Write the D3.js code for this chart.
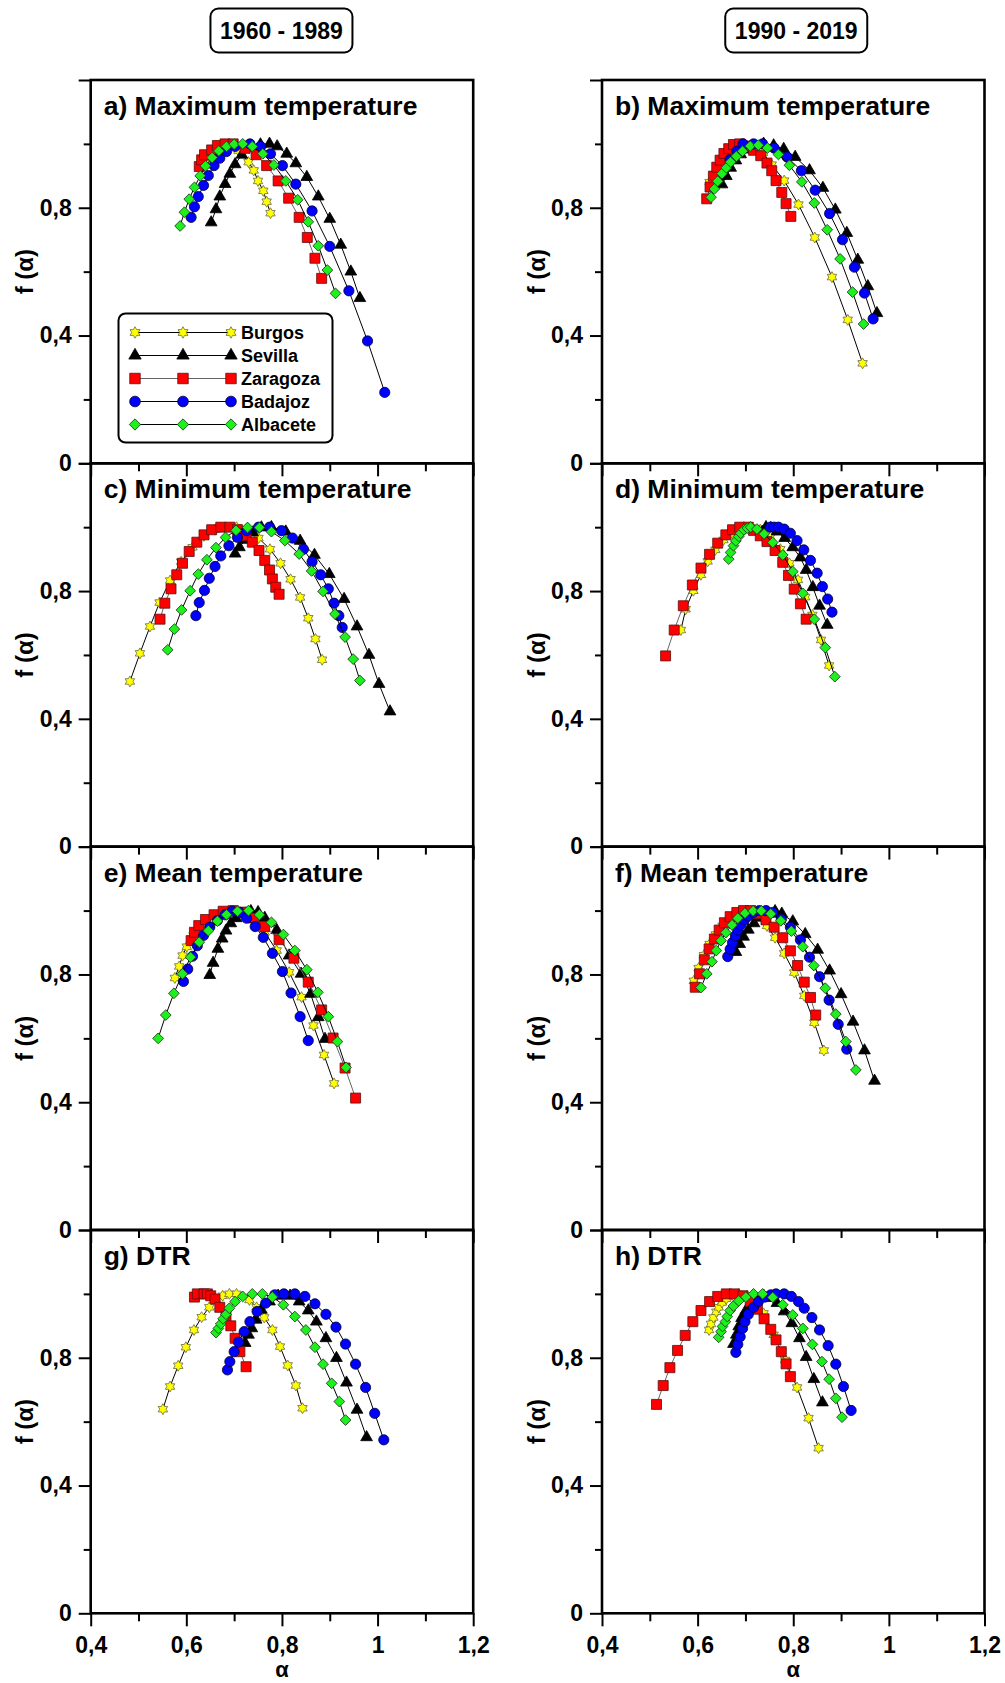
<!DOCTYPE html>
<html>
<head>
<meta charset="utf-8">
<script src="https://cdn.jsdelivr.net/npm/d3@7"></script>
<style>
  html, body { margin: 0; padding: 0; background: #fff; }
  svg text { font-family: "Liberation Sans", Arial, sans-serif; font-weight: bold; fill: #000; }
</style>
</head>
<body>
<script>
// ---- Labels and ticks ----
const cities = ["Burgos", "Sevilla", "Zaragoza", "Badajoz", "Albacete"];
const periods = ["1960 - 1989", "1990 - 2019"];
const panelTitles = [
  "a) Maximum temperature", "b) Maximum temperature",
  "c) Minimum temperature", "d) Minimum temperature",
  "e) Mean temperature", "f) Mean temperature",
  "g) DTR", "h) DTR"
];
const yTicksMajor = [0, 0.4, 0.8, 1.2];
const yTickLabels = ["0", "0,4", "0,8", ""];
const yTicksMinor = [0.2, 0.6, 1.0];
const xTicksMajor = [0.4, 0.6, 0.8, 1.0, 1.2];
const xTickLabels = ["0,4", "0,6", "0,8", "1", "1,2"];
const xTicksMinor = [0.5, 0.7, 0.9, 1.1];

// ---- Singularity spectra [alpha, f(alpha)] ----
// a) Maximum temperature, 1960-1989
const burgosA = [[0.64,0.94],[0.655,0.962],[0.67,0.98],[0.685,0.993],[0.698,0.998],[0.709,0.979],[0.730,0.943],[0.741,0.917],[0.750,0.884],[0.761,0.853],[0.768,0.819],[0.776,0.783]];
const sevillaA = [[0.652,0.754],[0.662,0.795],[0.670,0.835],[0.681,0.874],[0.691,0.906],[0.702,0.936],[0.716,0.966],[0.735,0.987],[0.755,0.998],[0.774,1.0],[0.790,0.992],[0.810,0.969],[0.829,0.939],[0.852,0.896],[0.876,0.835],[0.900,0.765],[0.923,0.684],[0.944,0.600],[0.963,0.517]];
const zaragozaA = [[0.627,0.929],[0.632,0.950],[0.638,0.966],[0.653,0.981],[0.665,0.995],[0.681,1.0],[0.698,1.0],[0.723,0.986],[0.746,0.966],[0.768,0.932],[0.792,0.884],[0.814,0.830],[0.836,0.770],[0.853,0.707],[0.869,0.642],[0.883,0.579]];
const badajozA = [[0.610,0.770],[0.617,0.803],[0.625,0.835],[0.636,0.870],[0.646,0.901],[0.658,0.932],[0.670,0.955],[0.684,0.976],[0.702,0.992],[0.733,1.0],[0.755,0.992],[0.776,0.969],[0.801,0.932],[0.829,0.874],[0.863,0.790],[0.900,0.679],[0.940,0.540],[0.979,0.383],[1.015,0.222]];
const albaceteA = [[0.587,0.743],[0.596,0.786],[0.606,0.827],[0.617,0.864],[0.629,0.900],[0.640,0.931],[0.654,0.957],[0.668,0.978],[0.684,0.992],[0.700,0.999],[0.718,1.0],[0.738,0.992],[0.760,0.969],[0.783,0.934],[0.808,0.884],[0.833,0.825],[0.855,0.756],[0.876,0.681],[0.895,0.605],[0.912,0.532]];

// b) Maximum temperature, 1990-2019
const burgosB = [[0.625,0.88],[0.635,0.905],[0.645,0.928],[0.657,0.95],[0.67,0.968],[0.685,0.983],[0.70,0.994],[0.718,0.998],[0.737,0.972],[0.755,0.935],[0.781,0.885],[0.811,0.810],[0.845,0.707],[0.881,0.583],[0.914,0.449],[0.945,0.313]];
const sevillaB = [[0.651,0.873],[0.660,0.899],[0.669,0.925],[0.680,0.948],[0.690,0.967],[0.703,0.982],[0.717,0.993],[0.738,1.0],[0.759,0.995],[0.780,0.984],[0.804,0.959],[0.834,0.917],[0.862,0.862],[0.888,0.794],[0.912,0.721],[0.935,0.637],[0.956,0.554],[0.975,0.470]];
const zaragozaB = [[0.619,0.828],[0.626,0.865],[0.633,0.899],[0.640,0.927],[0.647,0.949],[0.655,0.970],[0.665,0.985],[0.675,0.998],[0.688,1.0],[0.704,0.993],[0.717,0.980],[0.732,0.963],[0.745,0.940],[0.755,0.916],[0.764,0.885],[0.776,0.848],[0.785,0.813],[0.795,0.773]];
const badajozB = [[0.668,0.951],[0.682,0.977],[0.695,1.0],[0.717,1.0],[0.736,1.0],[0.760,0.987],[0.787,0.959],[0.817,0.916],[0.846,0.855],[0.876,0.782],[0.903,0.700],[0.928,0.614],[0.949,0.533],[0.967,0.452]];
const albaceteB = [[0.628,0.833],[0.635,0.859],[0.642,0.883],[0.651,0.907],[0.660,0.925],[0.669,0.943],[0.681,0.961],[0.694,0.977],[0.710,0.993],[0.727,0.996],[0.746,0.987],[0.769,0.967],[0.792,0.933],[0.818,0.881],[0.844,0.815],[0.871,0.731],[0.898,0.640],[0.924,0.536],[0.947,0.436]];

// c) Minimum temperature, 1960-1989
const burgosC = [[0.482,0.517],[0.503,0.605],[0.524,0.689],[0.544,0.764],[0.566,0.833],[0.589,0.892],[0.613,0.937],[0.637,0.973],[0.660,0.992],[0.681,0.999],[0.705,1.0],[0.728,0.986],[0.751,0.966],[0.775,0.931],[0.797,0.887],[0.818,0.837],[0.838,0.780],[0.855,0.715],[0.870,0.650],[0.884,0.585]];
const sevillaC = [[0.702,0.917],[0.711,0.937],[0.723,0.960],[0.739,0.983],[0.757,0.999],[0.778,1.0],[0.808,0.986],[0.838,0.957],[0.868,0.913],[0.899,0.853],[0.930,0.775],[0.957,0.689],[0.982,0.600],[1.003,0.509],[1.026,0.423]];
const zaragozaC = [[0.545,0.712],[0.555,0.762],[0.568,0.807],[0.580,0.851],[0.592,0.887],[0.606,0.924],[0.622,0.953],[0.637,0.976],[0.653,0.992],[0.672,1.0],[0.691,1.0],[0.707,0.992],[0.725,0.973],[0.738,0.953],[0.752,0.927],[0.764,0.896],[0.774,0.866],[0.780,0.838],[0.787,0.812],[0.794,0.790]];
const badajozC = [[0.620,0.723],[0.627,0.764],[0.638,0.802],[0.648,0.840],[0.660,0.877],[0.672,0.910],[0.689,0.942],[0.707,0.968],[0.726,0.989],[0.751,1.0],[0.774,1.0],[0.799,0.989],[0.822,0.966],[0.845,0.931],[0.863,0.892],[0.881,0.851],[0.897,0.807],[0.909,0.762],[0.919,0.723],[0.926,0.686]];
const albaceteC = [[0.561,0.616],[0.575,0.681],[0.590,0.741],[0.608,0.801],[0.625,0.853],[0.643,0.898],[0.662,0.936],[0.682,0.968],[0.704,0.990],[0.728,0.999],[0.753,0.999],[0.778,0.986],[0.806,0.958],[0.836,0.916],[0.862,0.863],[0.886,0.799],[0.911,0.728],[0.932,0.656],[0.949,0.587],[0.963,0.520]];

// d) Minimum temperature, 1990-2019
const burgosD = [[0.565,0.678],[0.575,0.743],[0.591,0.801],[0.607,0.851],[0.621,0.893],[0.637,0.929],[0.654,0.960],[0.672,0.981],[0.689,0.997],[0.710,1.0],[0.731,0.992],[0.752,0.969],[0.773,0.931],[0.792,0.887],[0.810,0.835],[0.825,0.781],[0.840,0.725],[0.858,0.647],[0.875,0.567]];
const sevillaD = [[0.735,0.985],[0.743,1.0],[0.753,0.997],[0.766,0.986],[0.782,0.966],[0.799,0.937],[0.815,0.905],[0.827,0.866],[0.841,0.812],[0.855,0.754],[0.871,0.694]];
const zaragozaD = [[0.533,0.597],[0.551,0.678],[0.570,0.754],[0.589,0.819],[0.607,0.872],[0.625,0.915],[0.642,0.950],[0.659,0.976],[0.673,0.992],[0.688,1.0],[0.706,1.0],[0.717,0.990],[0.731,0.973],[0.745,0.955],[0.762,0.927],[0.778,0.890],[0.790,0.849],[0.802,0.806],[0.815,0.760],[0.827,0.712]];
const badajozD = [[0.752,1.0],[0.760,1.0],[0.769,1.0],[0.781,0.994],[0.794,0.981],[0.808,0.958],[0.822,0.929],[0.836,0.896],[0.850,0.856],[0.861,0.814],[0.872,0.775],[0.881,0.734]];
const albaceteD = [[0.665,0.900],[0.669,0.921],[0.675,0.942],[0.680,0.957],[0.686,0.971],[0.690,0.981],[0.697,0.992],[0.704,0.997],[0.711,1.0],[0.724,0.994],[0.739,0.979],[0.757,0.952],[0.778,0.913],[0.799,0.861],[0.820,0.793],[0.844,0.712],[0.867,0.623],[0.887,0.532]];

// e) Mean temperature, 1960-1989
const burgosE = [[0.576,0.789],[0.585,0.825],[0.592,0.859],[0.601,0.887],[0.615,0.922],[0.632,0.950],[0.653,0.974],[0.674,0.990],[0.698,0.998],[0.723,0.995],[0.744,0.977],[0.764,0.932],[0.789,0.875],[0.815,0.807],[0.841,0.729],[0.866,0.640],[0.888,0.548],[0.909,0.459]];
const sevillaE = [[0.649,0.798],[0.656,0.836],[0.666,0.880],[0.675,0.912],[0.683,0.937],[0.693,0.960],[0.704,0.976],[0.718,0.990],[0.735,0.998],[0.750,0.995],[0.764,0.977],[0.789,0.939],[0.815,0.859],[0.840,0.802],[0.860,0.739],[0.876,0.666],[0.890,0.598]];
const zaragozaE = [[0.610,0.906],[0.617,0.932],[0.626,0.953],[0.640,0.972],[0.658,0.987],[0.677,0.998],[0.698,1.0],[0.719,0.995],[0.740,0.977],[0.764,0.950],[0.794,0.909],[0.825,0.851],[0.855,0.776],[0.883,0.689],[0.907,0.601],[0.932,0.507],[0.954,0.413]];
const badajozE = [[0.594,0.778],[0.603,0.817],[0.613,0.857],[0.623,0.890],[0.636,0.922],[0.649,0.948],[0.665,0.969],[0.681,0.987],[0.696,0.998],[0.711,0.995],[0.726,0.976],[0.744,0.950],[0.761,0.916],[0.780,0.866],[0.801,0.809],[0.819,0.742],[0.838,0.668],[0.855,0.593]];
const albaceteE = [[0.541,0.600],[0.557,0.673],[0.574,0.741],[0.592,0.802],[0.609,0.854],[0.627,0.901],[0.646,0.937],[0.665,0.967],[0.684,0.987],[0.707,0.998],[0.730,1.0],[0.753,0.987],[0.778,0.963],[0.803,0.925],[0.827,0.875],[0.852,0.815],[0.875,0.744],[0.897,0.668],[0.916,0.590],[0.934,0.509]];

// f) Mean temperature, 1990-2019
const burgosF = [[0.592,0.780],[0.602,0.820],[0.613,0.860],[0.625,0.895],[0.638,0.925],[0.652,0.952],[0.668,0.975],[0.685,0.990],[0.705,1.0],[0.722,0.990],[0.735,0.975],[0.745,0.952],[0.762,0.915],[0.781,0.866],[0.802,0.806],[0.823,0.733],[0.844,0.649],[0.864,0.562]];
const sevillaF = [[0.680,0.870],[0.688,0.895],[0.696,0.918],[0.706,0.940],[0.718,0.960],[0.732,0.978],[0.748,0.992],[0.762,0.998],[0.776,0.990],[0.799,0.966],[0.825,0.926],[0.851,0.877],[0.876,0.812],[0.900,0.738],[0.925,0.652],[0.949,0.562],[0.970,0.467]];
const zaragozaF = [[0.595,0.760],[0.604,0.802],[0.614,0.846],[0.624,0.880],[0.635,0.911],[0.645,0.939],[0.656,0.962],[0.668,0.981],[0.682,0.994],[0.696,1.0],[0.711,1.0],[0.724,0.990],[0.743,0.971],[0.760,0.948],[0.778,0.915],[0.794,0.874],[0.809,0.828],[0.823,0.776],[0.836,0.728],[0.847,0.673]];
const badajozF = [[0.663,0.856],[0.668,0.879],[0.673,0.900],[0.679,0.921],[0.684,0.939],[0.690,0.955],[0.698,0.971],[0.706,0.983],[0.717,0.994],[0.729,1.0],[0.743,1.0],[0.757,0.994],[0.775,0.973],[0.794,0.948],[0.815,0.908],[0.834,0.854],[0.855,0.793],[0.875,0.720],[0.894,0.644],[0.912,0.566]];
const albaceteF = [[0.607,0.759],[0.619,0.802],[0.630,0.840],[0.639,0.875],[0.649,0.906],[0.659,0.931],[0.672,0.955],[0.684,0.976],[0.699,0.992],[0.716,0.999],[0.733,0.999],[0.753,0.990],[0.774,0.968],[0.796,0.936],[0.820,0.887],[0.843,0.828],[0.867,0.757],[0.889,0.676],[0.910,0.590],[0.931,0.501]];

// g) DTR, 1960-1989
const burgosG = [[0.551,0.639],[0.566,0.710],[0.583,0.775],[0.599,0.833],[0.616,0.887],[0.632,0.927],[0.648,0.958],[0.663,0.981],[0.676,0.994],[0.690,1.0],[0.705,1.0],[0.732,0.981],[0.747,0.958],[0.763,0.926],[0.780,0.887],[0.796,0.835],[0.812,0.776],[0.829,0.713],[0.843,0.642]];
const sevillaG = [[0.723,0.846],[0.730,0.872],[0.737,0.892],[0.746,0.919],[0.757,0.950],[0.774,0.976],[0.792,0.994],[0.817,0.994],[0.836,0.976],[0.855,0.948],[0.872,0.913],[0.892,0.861],[0.914,0.799],[0.935,0.722],[0.957,0.637],[0.977,0.551]];
const zaragozaG = [[0.617,0.990],[0.623,1.0],[0.637,1.0],[0.644,1.0],[0.651,0.994],[0.660,0.984],[0.670,0.958],[0.683,0.929],[0.693,0.900],[0.702,0.861],[0.712,0.819],[0.725,0.772]];
const badajozG = [[0.686,0.762],[0.691,0.788],[0.700,0.819],[0.709,0.849],[0.721,0.882],[0.733,0.913],[0.748,0.945],[0.766,0.971],[0.785,0.997],[0.804,1.0],[0.827,1.0],[0.848,0.992],[0.869,0.969],[0.892,0.936],[0.913,0.896],[0.933,0.843],[0.954,0.780],[0.975,0.707],[0.994,0.626],[1.013,0.543]];
const albaceteG = [[0.662,0.879],[0.667,0.892],[0.672,0.906],[0.677,0.922],[0.683,0.936],[0.690,0.955],[0.702,0.976],[0.718,0.992],[0.738,1.0],[0.759,1.0],[0.780,0.990],[0.803,0.966],[0.827,0.929],[0.850,0.887],[0.869,0.833],[0.886,0.780],[0.904,0.720],[0.920,0.663],[0.933,0.605]];

// h) DTR, 1990-2019
const burgosH = [[0.624,0.887],[0.628,0.906],[0.633,0.926],[0.639,0.944],[0.644,0.958],[0.651,0.973],[0.660,0.985],[0.672,0.997],[0.686,1.0],[0.703,0.994],[0.720,0.976],[0.738,0.939],[0.759,0.872],[0.783,0.793],[0.808,0.707],[0.832,0.611],[0.853,0.517]];
const sevillaH = [[0.675,0.843],[0.681,0.872],[0.686,0.898],[0.692,0.924],[0.701,0.948],[0.710,0.968],[0.723,0.983],[0.738,0.994],[0.752,0.987],[0.766,0.971],[0.781,0.945],[0.797,0.908],[0.813,0.861],[0.827,0.802],[0.843,0.733],[0.861,0.660]];
const zaragozaH = [[0.514,0.654],[0.528,0.713],[0.542,0.769],[0.558,0.823],[0.574,0.870],[0.590,0.913],[0.607,0.948],[0.625,0.976],[0.642,0.992],[0.660,1.0],[0.677,1.0],[0.695,0.994],[0.710,0.976],[0.725,0.952],[0.739,0.922],[0.753,0.889],[0.764,0.856],[0.775,0.819],[0.785,0.781],[0.794,0.741]];
const badajozH = [[0.680,0.817],[0.684,0.842],[0.689,0.866],[0.694,0.892],[0.699,0.913],[0.706,0.936],[0.717,0.958],[0.727,0.976],[0.741,0.990],[0.753,0.997],[0.764,1.0],[0.781,1.0],[0.796,0.992],[0.811,0.976],[0.823,0.955],[0.839,0.926],[0.855,0.887],[0.873,0.838],[0.889,0.780],[0.905,0.710],[0.921,0.635]];
const albaceteH = [[0.644,0.864],[0.649,0.882],[0.652,0.898],[0.658,0.913],[0.662,0.929],[0.668,0.948],[0.675,0.962],[0.686,0.978],[0.701,0.990],[0.717,1.0],[0.736,1.0],[0.757,0.989],[0.778,0.966],[0.799,0.934],[0.820,0.892],[0.840,0.842],[0.860,0.788],[0.875,0.733],[0.889,0.673],[0.902,0.614]];

// Series per panel, in city order (Burgos, Sevilla, Zaragoza, Badajoz, Albacete)
const panelSeries = [
  [burgosA, sevillaA, zaragozaA, badajozA, albaceteA],
  [burgosB, sevillaB, zaragozaB, badajozB, albaceteB],
  [burgosC, sevillaC, zaragozaC, badajozC, albaceteC],
  [burgosD, sevillaD, zaragozaD, badajozD, albaceteD],
  [burgosE, sevillaE, zaragozaE, badajozE, albaceteE],
  [burgosF, sevillaF, zaragozaF, badajozF, albaceteF],
  [burgosG, sevillaG, zaragozaG, badajozG, albaceteG],
  [burgosH, sevillaH, zaragozaH, badajozH, albaceteH]
];

// ---- Marker shapes ----
const symbolHexagram = {
  draw(ctx, size) {
    const r = Math.sqrt(size);
    const ri = r * 0.58;
    for (let i = 0; i < 12; i++) {
      const rr = i % 2 ? ri : r;
      const a = -Math.PI / 2 + i * Math.PI / 6;
      const x = rr * Math.cos(a), y = rr * Math.sin(a);
      if (i === 0) ctx.moveTo(x, y); else ctx.lineTo(x, y);
    }
    ctx.closePath();
  }
};

const styles = [
  { type: symbolHexagram,   size: 30,  rot: 0,  fill: "#ffff00", stroke: "#6b6b3a", line: "#000" },
  { type: d3.symbolTriangle, size: 60, rot: 0,  fill: "#000000", stroke: "#000",    line: "#000" },
  { type: d3.symbolSquare,  size: 100, rot: 0,  fill: "#ff0000", stroke: "#5a1010", line: "#666" },
  { type: d3.symbolCircle,  size: 82,  rot: 0,  fill: "#0000ff", stroke: "#000033", line: "#000" },
  { type: d3.symbolSquare,  size: 58,  rot: 45, fill: "#1ef01e", stroke: "#1c3a1c", line: "#000" }
];

// ---- Layout ----
const W = 1005, H = 1683;
const colX = [90.7, 602];
const plotW = 382.5;
const rowY = [80, 463.3, 846.7, 1230];
const plotH = 383.3;

const svg = d3.select("body").append("svg")
  .attr("width", W).attr("height", H)
  .attr("viewBox", `0 0 ${W} ${H}`);

// Period headers
periods.forEach((p, c) => {
  const cx = colX[c] + plotW / 2 + (c === 0 ? -0.5 : 3);
  const g = svg.append("g");
  g.append("rect")
    .attr("x", cx - 71).attr("y", 8.5).attr("width", 142).attr("height", 44)
    .attr("rx", 8).attr("fill", "#fff").attr("stroke", "#000").attr("stroke-width", 2);
  g.append("text")
    .attr("x", cx).attr("y", 38.5)
    .attr("text-anchor", "middle").attr("font-size", 23)
    .text(p);
});

const line = d3.line();

panelTitles.forEach((title, i) => {
  const r = Math.floor(i / 2), c = i % 2;
  const x0 = colX[c], y0 = rowY[r];
  const x = d3.scaleLinear().domain([0.4, 1.2]).range([x0, x0 + plotW]);
  const y = d3.scaleLinear().domain([0, 1.2]).range([y0 + plotH, y0]);
  const g = svg.append("g");

  // Left axis: major ticks with labels, minor ticks without
  const yMajor = d3.axisLeft(y).tickValues(yTicksMajor)
    .tickSize(12).tickPadding(7)
    .tickFormat((d, k) => yTickLabels[k]);
  const yMinor = d3.axisLeft(y).tickValues(yTicksMinor).tickSize(7).tickFormat("");
  [yMajor, yMinor].forEach(ax => {
    const ga = g.append("g").attr("transform", `translate(${x0},0)`).call(ax);
    ga.select(".domain").remove();
    ga.selectAll("line").attr("stroke", "#000").attr("stroke-width", 2);
    ga.selectAll("text").attr("font-size", 23)
      .style("font-family", '"Liberation Sans", Arial, sans-serif')
      .style("font-weight", "bold");
  });

  // Bottom axis: labels only on the last row
  const last = r === 3;
  const xMajor = d3.axisBottom(x).tickValues(xTicksMajor)
    .tickSize(13).tickPadding(10)
    .tickFormat((d, k) => last ? xTickLabels[k] : "");
  const xMinor = d3.axisBottom(x).tickValues(xTicksMinor).tickSize(8).tickFormat("");
  [xMajor, xMinor].forEach(ax => {
    const ga = g.append("g").attr("transform", `translate(0,${y0 + plotH})`).call(ax);
    ga.select(".domain").remove();
    ga.selectAll("line").attr("stroke", "#000").attr("stroke-width", 2);
    ga.selectAll("text").attr("font-size", 23)
      .style("font-family", '"Liberation Sans", Arial, sans-serif')
      .style("font-weight", "bold");
  });

  // Y axis title
  g.append("text")
    .attr("transform", `translate(${x0 - 66},${y0 + plotH / 2}) rotate(-90)`)
    .attr("text-anchor", "middle").attr("dominant-baseline", "central")
    .attr("font-size", 24)
    .text("f (\u03b1)");

  // X axis title on the bottom row
  if (last) {
    g.append("text")
      .attr("x", x0 + plotW / 2).attr("y", 1677)
      .attr("text-anchor", "middle").attr("font-size", 22)
      .text("\u03b1");
  }

  // Spectra: connecting line, then markers, city by city
  panelSeries[i].forEach((pts, s) => {
    const st = styles[s];
    g.append("path")
      .attr("d", line(pts.map(p => [x(p[0]), y(p[1])])))
      .attr("fill", "none").attr("stroke", st.line).attr("stroke-width", 1);
    const sym = d3.symbol().type(st.type).size(st.size);
    g.append("g").selectAll("path").data(pts).join("path")
      .attr("d", sym)
      .attr("transform", p => `translate(${x(p[0])},${y(p[1])}) rotate(${st.rot})`)
      .attr("fill", st.fill).attr("stroke", st.stroke).attr("stroke-width", 0.8);
  });

  // Panel frame
  g.append("rect")
    .attr("x", x0).attr("y", y0).attr("width", plotW).attr("height", plotH)
    .attr("fill", "none").attr("stroke", "#000").attr("stroke-width", 2.6);

  // Panel title
  g.append("text")
    .attr("x", x0 + 13).attr("y", y0 + 35)
    .attr("font-size", 26.5)
    .text(title);

  // Legend in the first panel
  if (i === 0) {
    const lg = g.append("g");
    lg.append("rect")
      .attr("x", 118.5).attr("y", 313.5).attr("width", 214).attr("height", 129)
      .attr("rx", 7).attr("fill", "#fff").attr("stroke", "#000").attr("stroke-width", 2);
    const rowsY = [332.5, 355.5, 378.5, 401.5, 424.5];
    const symX = [135, 183, 231];
    cities.forEach((name, s) => {
      const st = styles[s];
      const ly = rowsY[s];
      lg.append("line")
        .attr("x1", symX[0]).attr("x2", symX[2]).attr("y1", ly).attr("y2", ly)
        .attr("stroke", st.line).attr("stroke-width", 1.2);
      const sym = d3.symbol().type(st.type).size(st.size * 1.1);
      symX.forEach(sx => {
        lg.append("path").attr("d", sym())
          .attr("transform", `translate(${sx},${ly}) rotate(${st.rot})`)
          .attr("fill", st.fill).attr("stroke", st.stroke).attr("stroke-width", 0.8);
      });
      lg.append("text")
        .attr("x", 241).attr("y", ly)
        .attr("dominant-baseline", "central")
        .attr("font-size", 18)
        .text(name);
    });
  }
});
</script>
</body>
</html>
